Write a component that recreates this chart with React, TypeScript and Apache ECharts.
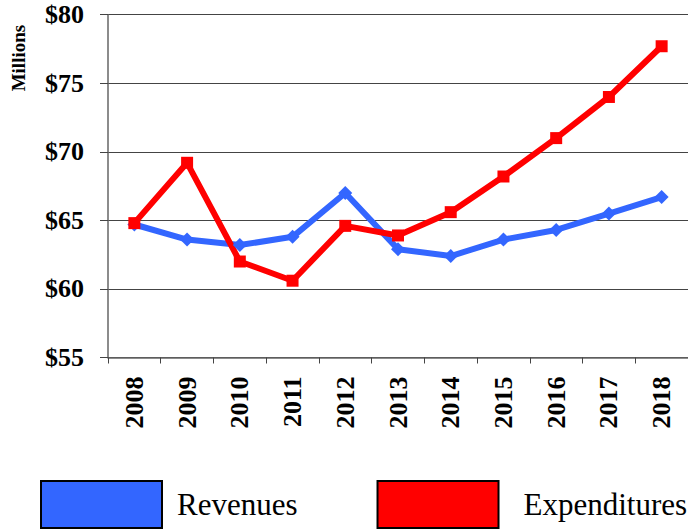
import React, { useEffect, useRef } from "react";
import * as echarts from "echarts";

const years = ["2008", "2009", "2010", "2011", "2012", "2013", "2014", "2015", "2016", "2017", "2018"];
const revenues = [64.7, 63.6, 63.2, 63.8, 67.0, 62.9, 62.4, 63.6, 64.3, 65.5, 66.7];
const expenditures = [64.8, 69.2, 62.0, 60.6, 64.6, 63.9, 65.6, 68.2, 71.0, 74.0, 77.7];

export default function App() {
  const ref = useRef<HTMLDivElement>(null);
  useEffect(() => {
    const chart = echarts.init(ref.current!, null, { renderer: "svg" });
    const serif = "'Liberation Serif', 'Times New Roman', serif";
    chart.setOption({
      animation: false,
      textStyle: { fontFamily: serif },
      grid: { left: 108, right: 0, top: 14.7, bottom: 171.5, containLabel: false },
      legend: {
        left: 40,
        top: 480,
        padding: 0,
        itemWidth: 121,
        itemHeight: 47,
        itemGap: 79,
        icon: "rect",
        selectedMode: false,
        textStyle: { fontFamily: serif, fontSize: 31, color: "#000", padding: [0, 0, 10, 10] },
        data: [
          { name: "Revenues", itemStyle: { color: "#3366FF", borderColor: "#000", borderWidth: 2 } },
          {
            name: "Expenditures",
            itemStyle: { color: "#FF0000", borderColor: "#000", borderWidth: 2 },
            textStyle: { fontFamily: serif, fontSize: 31, color: "#000", padding: [0, 0, 10, 20] },
          },
        ],
      },
      xAxis: {
        type: "category",
        data: years,
        boundaryGap: true,
        axisLine: { lineStyle: { color: "#666", width: 1.5 } },
        axisTick: { show: true, length: 6, lineStyle: { color: "#444" } },
        axisLabel: {
          rotate: 90,
          fontFamily: serif,
          fontWeight: "bold",
          fontSize: 26,
          color: "#000",
          margin: 19,
        },
      },
      yAxis: {
        type: "value",
        min: 55,
        max: 80,
        interval: 5,
        name: "Millions",
        nameLocation: "middle",
        nameRotate: 90,
        nameGap: 90,
        nameMoveOverlap: false,
        nameTextStyle: {
          fontFamily: serif,
          fontWeight: "bold",
          fontSize: 19,
          color: "#000",
          align: "center",
          verticalAlign: "middle",
          padding: [0, 0, 0, 256],
        },
        axisLine: { show: true, lineStyle: { color: "#666", width: 1.5 } },
        axisTick: { show: true, length: 8, lineStyle: { color: "#444" } },
        splitLine: { show: true, lineStyle: { color: "#444", width: 1.2 } },
        axisLabel: {
          fontFamily: serif,
          fontWeight: "bold",
          fontSize: 26,
          color: "#000",
          margin: 24,
          formatter: (v: number) => "$" + v,
        },
      },
      series: [
        {
          name: "Revenues",
          type: "line",
          data: revenues,
          color: "#3366FF",
          lineStyle: { width: 6, color: "#3366FF" },
          symbol: "diamond",
          symbolSize: 14,
          itemStyle: { color: "#3366FF" },
        },
        {
          name: "Expenditures",
          type: "line",
          data: expenditures,
          color: "#FF0000",
          lineStyle: { width: 6, color: "#FF0000" },
          symbol: "rect",
          symbolSize: 12,
          itemStyle: { color: "#FF0000" },
        },
      ],
    });
    return () => chart.dispose();
  }, []);
  return <div ref={ref} style={{ width: 688, height: 529, position: "absolute", left: 0, top: 0 }} />;
}
